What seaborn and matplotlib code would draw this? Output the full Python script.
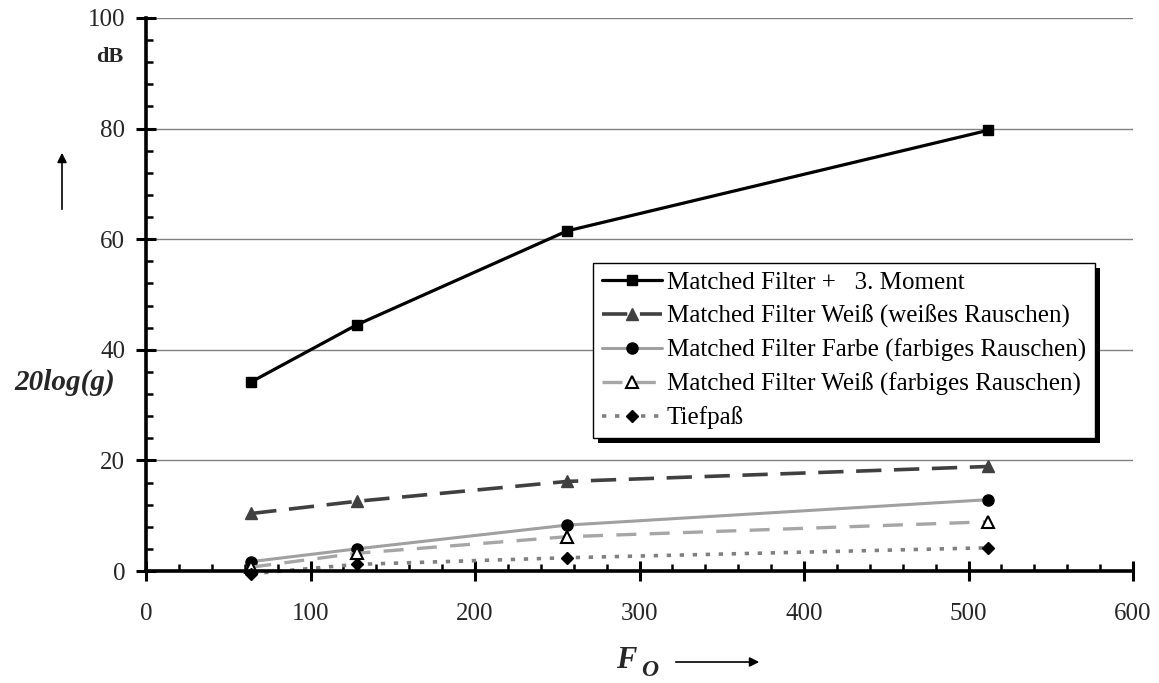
import matplotlib
matplotlib.use("Agg")
import matplotlib.pyplot as plt
import matplotlib.patches as mpatches
import seaborn as sns
import pandas as pd
from matplotlib.ticker import MultipleLocator

# ---- data ----
fo = [64, 128, 256, 512]
moment3 = [34.2, 44.5, 61.5, 79.7]
mf_weiss_weiss = [10.4, 12.6, 16.2, 18.9]
mf_farbe_farbig = [1.7, 4.0, 8.3, 12.9]
mf_weiss_farbig = [0.7, 3.2, 6.2, 8.9]
tiefpass = [-0.5, 1.2, 2.4, 4.2]

labels = [
    "Matched Filter +   3. Moment",
    "Matched Filter Weiß (weißes Rauschen)",
    "Matched Filter Farbe (farbiges Rauschen)",
    "Matched Filter Weiß (farbiges Rauschen)",
    "Tiefpaß",
]
x_ticks = [0, 100, 200, 300, 400, 500, 600]
y_ticks = [0, 20, 40, 60, 80, 100]

sns.set_style("white")
plt.rcParams["font.family"] = ["Liberation Serif", "DejaVu Serif"]

W, H = 1159, 683
fig = plt.figure(figsize=(W / 100, H / 100), dpi=100)
ax = fig.add_axes([146 / W, (H - 571) / H, (1133 - 146) / W, (571 - 18) / H])

series = [moment3, mf_weiss_weiss, mf_farbe_farbig, mf_weiss_farbig, tiefpass]
styles = [
    dict(color="black", lw=2.3, linestyle="-", marker="s", ms=6.5,
         mfc="black", mec="black", mew=1),
    dict(color="#404040", lw=2.6, linestyle=(0, (7, 3.5)), marker="^", ms=8,
         mfc="#404040", mec="#404040", mew=1),
    dict(color="#a0a0a0", lw=2.2, linestyle="-", marker="o", ms=8,
         mfc="black", mec="black", mew=1),
    dict(color="#a6a6a6", lw=2.4, linestyle=(0, (6, 4)), marker="^", ms=8,
         mfc="white", mec="black", mew=1.5),
    dict(color="#808080", lw=2.6, linestyle=(0, (1.2, 2.4)), marker="D", ms=6.5,
         mfc="black", mec="black", mew=1),
]

for vals, lab, st in zip(series, labels, styles):
    df = pd.DataFrame({"Fo": fo, "dB": vals})
    sns.lineplot(data=df, x="Fo", y="dB", ax=ax, label=lab, clip_on=False, **st)

ax.set_xlim(0, 600)
ax.set_ylim(0, 100)
ax.set_xticks(x_ticks)
ax.set_yticks(y_ticks)
ax.xaxis.set_minor_locator(MultipleLocator(20))
ax.yaxis.set_minor_locator(MultipleLocator(4))
ax.set_xlabel("")
ax.set_ylabel("")

ax.yaxis.grid(True, which="major", color="#808080", lw=1)
ax.xaxis.grid(False)
ax.set_axisbelow(True)

for s in ["top", "right"]:
    ax.spines[s].set_visible(False)
for s in ["left", "bottom"]:
    ax.spines[s].set_linewidth(2.6)
    ax.spines[s].set_color("black")

ax.tick_params(axis="both", which="both", bottom=True, left=True,
               top=False, right=False)
ax.tick_params(axis="both", which="major", direction="inout", length=14,
               width=2.2, color="black", labelsize=18)
ax.tick_params(axis="both", which="minor", direction="in", length=5,
               width=1.8, color="black")
ax.tick_params(axis="x", which="major", pad=16)
ax.tick_params(axis="y", which="major", pad=8)
for lbl in ax.get_xticklabels() + ax.get_yticklabels():
    lbl.set_fontfamily(["Liberation Serif"])

leg = ax.legend(loc="upper left", bbox_to_anchor=(0.453, 0.557), frameon=True,
                fancybox=False, shadow=False, framealpha=1, facecolor="white",
                edgecolor="black", fontsize=18, handlelength=2.4,
                handletextpad=0.2, labelspacing=0.42, borderpad=0.35,
                borderaxespad=0)
leg.get_frame().set_linewidth(1.0)
leg.set_zorder(10)
for t in leg.get_texts():
    t.set_color("black")

# shadow for legend (thick black offset)
fig.canvas.draw()
bb = leg.get_window_extent()
shadow = mpatches.Rectangle((bb.x0 + 5, bb.y0 - 5), bb.width, bb.height,
                            transform=None, facecolor="black",
                            edgecolor="none", zorder=9)
ax.add_artist(shadow)

# annotations
fig.text(110 / W, 1 - 57 / H, "dB", ha="center", va="center",
         fontsize=16, fontweight="bold")
fig.text(65 / W, 1 - 382 / H, "20log(g)", ha="center", va="center",
         fontsize=21, fontweight="bold", fontstyle="italic")
fig.patches.append(mpatches.FancyArrowPatch(
    (62 / W, 1 - 212 / H), (62 / W, 1 - 150 / H),
    transform=fig.transFigure, arrowstyle="-|>", mutation_scale=14,
    color="black", lw=1.2))
fig.text(626 / W, 1 - 660 / H, "F", ha="center", va="center",
         fontsize=22, fontweight="bold", fontstyle="italic")
fig.text(650 / W, 1 - 670 / H, "O", ha="center", va="center",
         fontsize=17, fontweight="bold", fontstyle="italic")
fig.patches.append(mpatches.FancyArrowPatch(
    (673 / W, 1 - 662 / H), (762 / W, 1 - 662 / H),
    transform=fig.transFigure, arrowstyle="-|>", mutation_scale=14,
    color="black", lw=1.2))

fig.savefig("out.png", dpi=100)
